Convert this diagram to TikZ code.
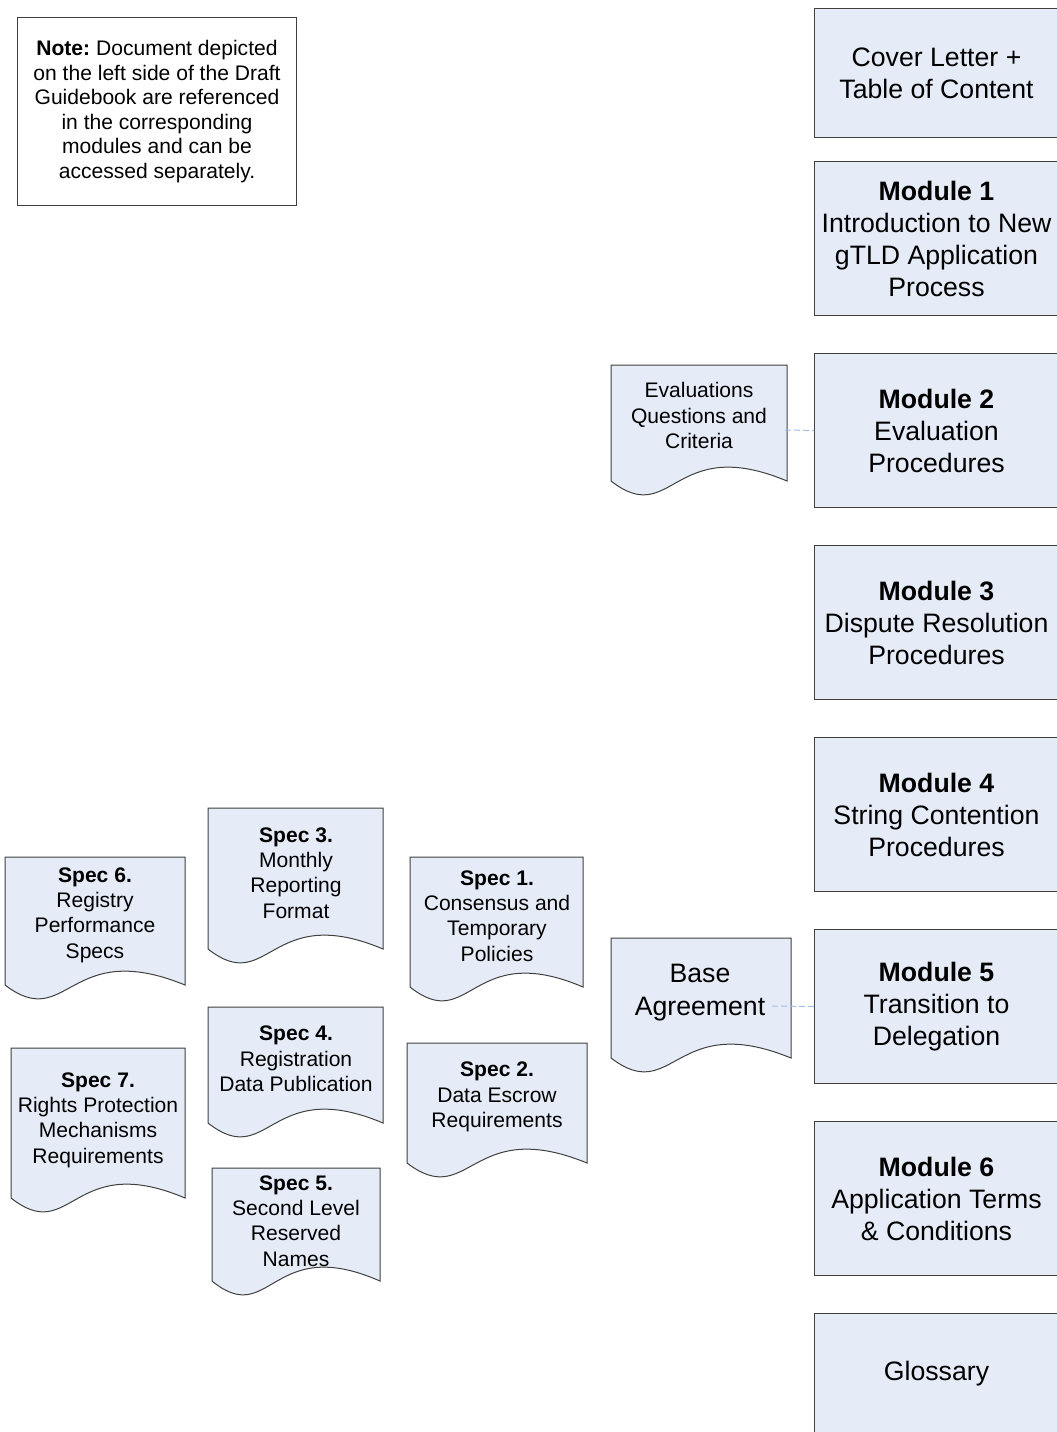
\documentclass[tikz,border=0pt]{standalone}
\usepackage{fontspec}
\setmainfont{Liberation Sans}
\definecolor{boxfill}{RGB}{230,236,247}
\definecolor{edgec}{RGB}{64,64,64}
\definecolor{linkc}{RGB}{160,190,230}
\newcommand\docshp[4]{% x0, y0, x1, y1 (pixels)
  \filldraw[docbody] (#1,#2) -- (#3,#2) -- (#3,#4)
    .. controls ({#1+0.35*(#3-#1)},{#4-48}) and ({#1+0.35*(#3-#1)},{#4+48}) .. (#1,#4) -- cycle;}
\tikzset{
  modbox/.style={draw=edgec, line width=0.75pt, fill=boxfill, anchor=north west,
    minimum width=183pt, minimum height=115.5pt, align=center, inner sep=0pt,
    font=\fontsize{20}{24}\selectfont},
  notebox/.style={draw=edgec, line width=0.75pt, fill=white, anchor=north west,
    minimum width=209.25pt, minimum height=141pt, align=center, inner sep=0pt,
    font=\fontsize{15.8}{18.4}\selectfont},
  docbody/.style={draw=edgec, line width=0.75pt, fill=boxfill},
  doctext/.style={align=center, inner sep=0pt, font=\fontsize{15.8}{19}\selectfont},
  bigdoctext/.style={align=center, inner sep=0pt, font=\fontsize{20}{24.75}\selectfont},
  linkline/.style={draw=linkc, line width=0.75pt, dash pattern=on 4.5pt off 2.25pt}
}
\begin{document}
\begin{tikzpicture}[x=0.75pt,y=-0.75pt]
\useasboundingbox (0,0) rectangle (1057,1432);
\clip (0,0) rectangle (1057,1432);

% note
\node[notebox] (note) at (17,17) {\textbf{Note:}~Document depicted\\on the left side of the Draft\\Guidebook are referenced\\in the corresponding\\modules and can be\\accessed separately.};

% modules
\node[modbox] (m0) at (814,8) [minimum height=96.75pt] {Cover Letter +\\Table of Content};
\node[modbox] (m1) at (814,161) {\textbf{Module 1}\\Introduction to New\\gTLD Application\\Process};
\node[modbox] (m2) at (814,353) {\textbf{Module 2}\\Evaluation\\Procedures};
\node[modbox] (m3) at (814,545) {\textbf{Module 3}\\Dispute Resolution\\Procedures};
\node[modbox] (m4) at (814,737) {\textbf{Module 4}\\String Contention\\Procedures};
\node[modbox] (m5) at (814,929) {\textbf{Module 5}\\Transition to\\Delegation};
\node[modbox] (m6) at (814,1121) {\textbf{Module 6}\\Application Terms\\\& Conditions};
\node[modbox] (gl) at (814,1313) [minimum height=90pt] {Glossary};

% documents
\docshp{611}{365}{787}{481}
\node[doctext] (eval) at (699,415.5) {Evaluations\\Questions and\\Criteria};
\docshp{611}{938}{791}{1058}
\node[bigdoctext] (base) at (700,992.5) {Base\\Agreement};
\docshp{5}{857}{185}{985}
\node[doctext] (s6) at (95,915) {\textbf{Spec 6.}\\Registry\\Performance\\Specs};
\docshp{208}{808}{383}{949}
\node[doctext] (s3) at (296,873) {\textbf{Spec 3.}\\Monthly\\Reporting\\Format};
\docshp{410}{857}{583}{987}
\node[doctext] (s1) at (497,916) {\textbf{Spec 1.}\\Consensus and\\Temporary\\Policies};
\docshp{208}{1007}{383}{1123}
\node[doctext] (s4) at (296,1059) {\textbf{Spec 4.}\\Registration\\Data Publication};
\docshp{407}{1043}{587}{1163}
\node[doctext] (s2) at (497,1097) {\textbf{Spec 2.}\\Data Escrow\\Requirements};
\docshp{11}{1048}{185}{1198}
\node[doctext] (s7) at (98,1120) {\textbf{Spec 7.}\\Rights Protection\\Mechanisms\\Requirements};
\docshp{212}{1168}{380}{1281}
\node[doctext] (s5) at (296,1221) {\textbf{Spec 5.}\\Second Level\\Reserved\\Names};

% connectors
\coordinate (evalR) at (785,430);
\coordinate (baseR) at (772,1006);
\draw[linkline] (evalR) -- (m2.west);
\draw[linkline] (baseR) -- (m5.west);
\end{tikzpicture}
\end{document}
